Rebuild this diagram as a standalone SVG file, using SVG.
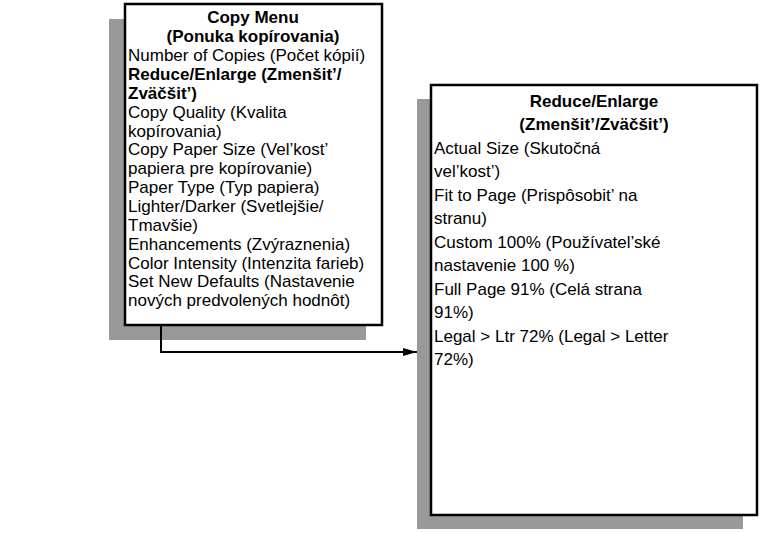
<svg xmlns="http://www.w3.org/2000/svg" width="769" height="533" viewBox="0 0 769 533">
  <defs>
    <style>
      .shadow { fill: #999999; }
      .box { fill: #ffffff; stroke: #000000; stroke-width: 2.5; }
      .t { font-family: "Liberation Sans", Arial, sans-serif; font-size: 17px; fill: #000000; }
      .b { font-weight: bold; }
      .c { text-anchor: middle; }
      .wire { fill: none; stroke: #000000; stroke-width: 2; }
    </style>
    <marker id="arrow" markerWidth="14" markerHeight="8" refX="14" refY="4" orient="auto" markerUnits="userSpaceOnUse">
      <path d="M0,0 L14,4 L0,8 Z" fill="#000000"/>
    </marker>
  </defs>

  <!-- Copy Menu node -->
  <g id="copy-menu">
    <rect class="shadow" x="109" y="19" width="257" height="321"/>
    <rect class="box" x="125" y="4" width="257" height="321"/>
    <text class="t b c" x="253" y="23">Copy Menu</text>
    <text class="t b c" x="253" y="42">(Ponuka kopírovania)</text>
    <text class="t" x="128" y="61">Number of Copies (Počet kópií)</text>
    <text class="t b" x="128" y="80">Reduce/Enlarge (Zmenšit’/</text>
    <text class="t b" x="128" y="99">Zväčšit’)</text>
    <text class="t" x="128" y="118">Copy Quality (Kvalita</text>
    <text class="t" x="128" y="137">kopírovania)</text>
    <text class="t" x="128" y="155">Copy Paper Size (Vel’kost’</text>
    <text class="t" x="128" y="174">papiera pre kopírovanie)</text>
    <text class="t" x="128" y="193">Paper Type (Typ papiera)</text>
    <text class="t" x="128" y="212">Lighter/Darker (Svetlejšie/</text>
    <text class="t" x="128" y="231">Tmavšie)</text>
    <text class="t" x="128" y="250">Enhancements (Zvýraznenia)</text>
    <text class="t" x="128" y="269">Color Intensity (Intenzita farieb)</text>
    <text class="t" x="128" y="287">Set New Defaults (Nastavenie</text>
    <text class="t" x="128" y="306">nových predvolených hodnôt)</text>
  </g>

  <!-- Reduce/Enlarge node -->
  <g id="reduce-enlarge">
    <rect class="shadow" x="417" y="99" width="326" height="430"/>
    <rect class="box" x="431" y="85" width="326" height="430"/>
    <text class="t b c" x="594" y="107">Reduce/Enlarge</text>
    <text class="t b c" x="594" y="130">(Zmenšit’/Zväčšit’)</text>
    <text class="t" x="434" y="154">Actual Size (Skutočná</text>
    <text class="t" x="434" y="177">vel’kost’)</text>
    <text class="t" x="434" y="201">Fit to Page (Prispôsobit’ na</text>
    <text class="t" x="434" y="224">stranu)</text>
    <text class="t" x="434" y="248">Custom 100% (Používatel’ské</text>
    <text class="t" x="434" y="271">nastavenie 100 %)</text>
    <text class="t" x="434" y="295">Full Page 91% (Celá strana</text>
    <text class="t" x="434" y="318">91%)</text>
    <text class="t" x="434" y="342">Legal &gt; Ltr 72% (Legal &gt; Letter</text>
    <text class="t" x="434" y="365">72%)</text>
  </g>

  <!-- Connectors -->
  <g id="connectors">
    <path class="wire" d="M161,325 V352 H417" marker-end="url(#arrow)"/>
  </g>
</svg>
